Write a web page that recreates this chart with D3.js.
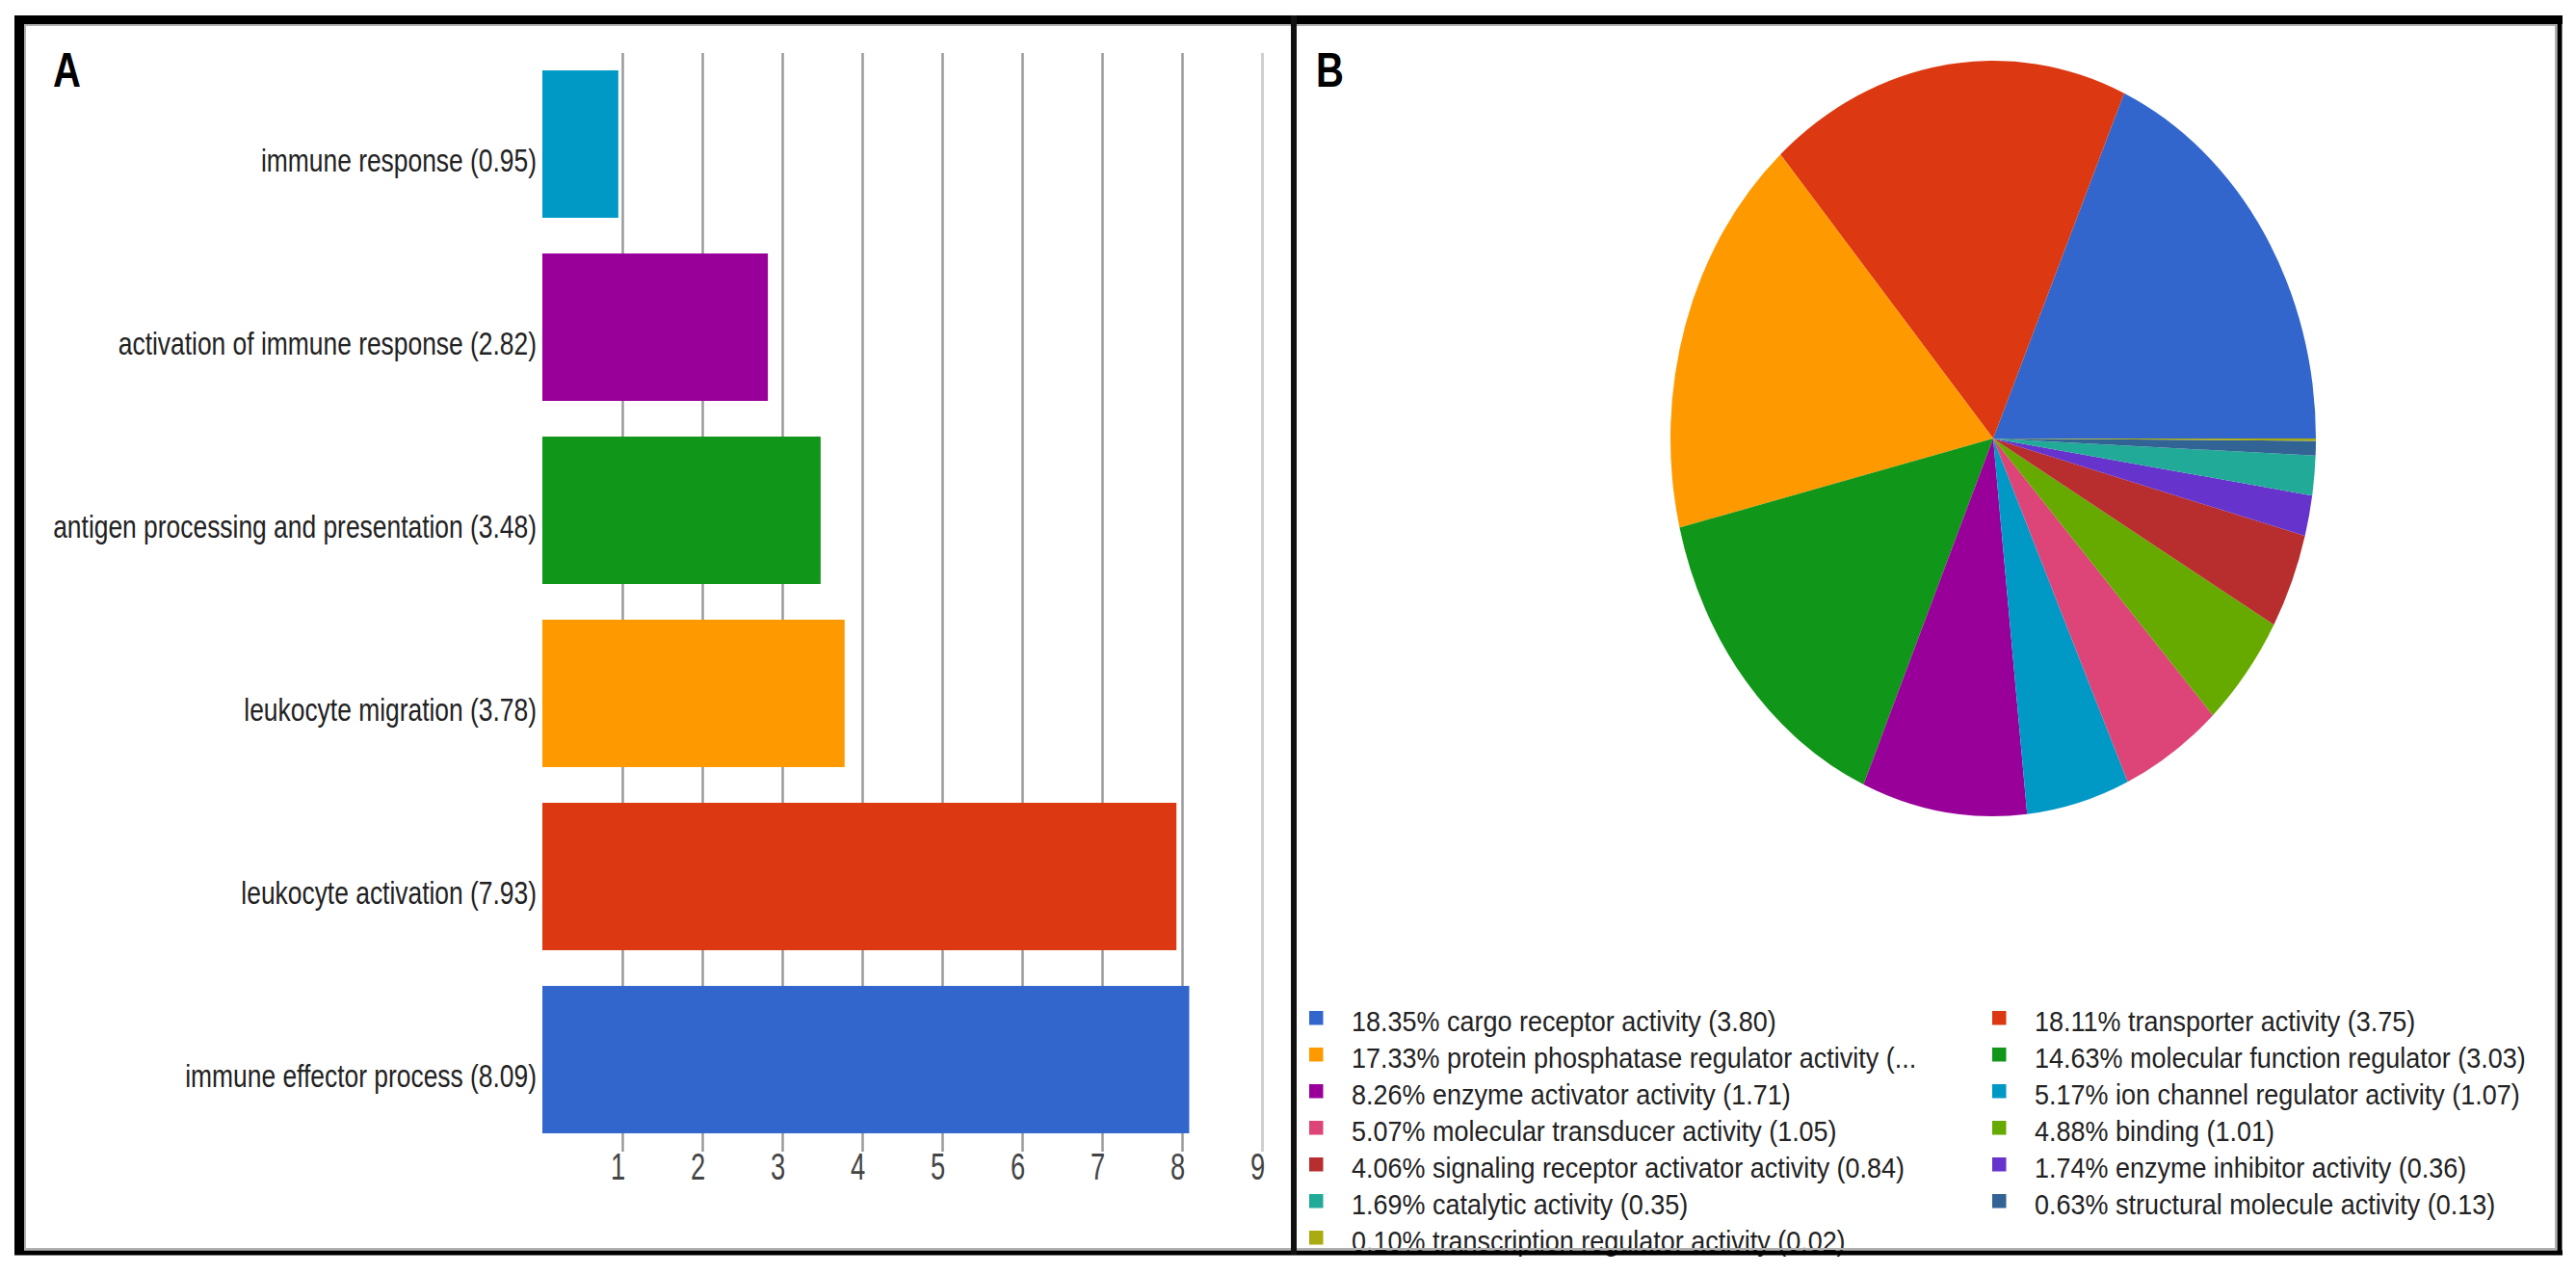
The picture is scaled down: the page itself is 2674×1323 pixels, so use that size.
<!DOCTYPE html>
<html>
<head>
<meta charset="utf-8">
<script src="https://cdnjs.cloudflare.com/ajax/libs/d3/7.8.5/d3.min.js"></script>
<style>
  html, body { margin: 0; padding: 0; background: #fff; }
  svg { display: block; font-family: "Liberation Sans", Arial, sans-serif; }
</style>
</head>
<body>
<svg id="chart" width="2674" height="1323"></svg>
<script>
// panel A: enriched biological processes
var processes = [
  'immune response',
  'activation of immune response',
  'antigen processing and presentation',
  'leukocyte migration',
  'leukocyte activation',
  'immune effector process'
];
var processValues = [0.95, 2.82, 3.48, 3.78, 7.93, 8.09];
var processColors = ['#0099c6', '#990099', '#109618', '#ff9900', '#dc3912', '#3366cc'];
var xTicks = [1, 2, 3, 4, 5, 6, 7, 8, 9];

// panel B: molecular functions
var functions = [
  'cargo receptor activity',
  'transporter activity',
  'protein phosphatase regulator activity',
  'molecular function regulator',
  'enzyme activator activity',
  'ion channel regulator activity',
  'molecular transducer activity',
  'binding',
  'signaling receptor activator activity',
  'enzyme inhibitor activity',
  'catalytic activity',
  'structural molecule activity',
  'transcription regulator activity'
];
var functionPercents = [18.35, 18.11, 17.33, 14.63, 8.26, 5.17, 5.07, 4.88, 4.06, 1.74, 1.69, 0.63, 0.10];
var functionValues = [3.80, 3.75, 3.59, 3.03, 1.71, 1.07, 1.05, 1.01, 0.84, 0.36, 0.35, 0.13, 0.02];
var functionColors = ['#3366cc', '#dc3912', '#ff9900', '#109618', '#990099', '#0099c6',
  '#dd4477', '#66aa00', '#b82e2e', '#6633cc', '#22aa99', '#316395', '#aaaa11'];

var svg = d3.select('#chart');

// ---- panel A ----
var x = d3.scaleLinear().domain([0, 9]).range([563, 1310]);
var y = d3.scaleBand().domain(processes).range([54.5, 1194.5])
  .paddingInner(0.195).paddingOuter(0.0975);

var axis = svg.append('g')
  .attr('class', 'x-axis')
  .attr('transform', 'translate(0,1195)')
  .call(d3.axisBottom(x).tickValues(xTicks).tickSize(-1140).tickPadding(2));

axis.select('.domain').remove();
axis.selectAll('.tick line')
  .attr('stroke', function(d) { return d === 9 ? '#d0d0d0' : '#9a9a9a'; })
  .attr('stroke-width', function(d) { return d === 9 ? 3 : 2.5; });
axis.selectAll('.tick text')
  .attr('font-size', 38)
  .attr('fill', '#444')
  .attr('font-family', '"Liberation Sans", Arial, sans-serif')
  .attr('transform', 'translate(-5,0) scale(0.72,1)');

svg.append('g').attr('class', 'bars')
  .selectAll('rect')
  .data(processes)
  .enter().append('rect')
  .attr('x', x(0))
  .attr('y', function(d) { return y(d); })
  .attr('height', y.bandwidth())
  .attr('width', function(d, i) { return x(processValues[i]) - x(0); })
  .attr('fill', function(d, i) { return processColors[i]; });

svg.append('g').attr('class', 'bar-labels')
  .selectAll('text')
  .data(processes)
  .enter().append('text')
  .attr('text-anchor', 'end')
  .attr('font-size', 33)
  .attr('fill', '#222')
  .attr('transform', function(d) {
    return 'translate(557,' + (y(d) + y.bandwidth() / 2 + 28) + ') scale(0.8,1)';
  })
  .text(function(d, i) { return d + ' (' + processValues[i].toFixed(2) + ')'; });

// ---- panel B ----
var ry = 392, rx = 335;
var pie = d3.pie().sort(null).value(function(d) { return d; })
  .startAngle(Math.PI / 2).endAngle(Math.PI / 2 - 2 * Math.PI);
var arc = d3.arc().innerRadius(0).outerRadius(ry);

svg.append('g').attr('class', 'pie')
  .attr('transform', 'translate(2069,455) scale(' + (rx / ry) + ',1)')
  .selectAll('path')
  .data(pie(functionValues))
  .enter().append('path')
  .attr('d', arc)
  .attr('fill', function(d, i) { return functionColors[i]; });

var legend = svg.append('g').attr('class', 'legend');
var legendCols = [1359, 2068], rowTop = 1049, rowStep = 38, maxLabel = 595;

var items = legend.selectAll('g')
  .data(functions)
  .enter().append('g')
  .attr('transform', function(d, i) {
    return 'translate(' + legendCols[i % 2] + ',' + (rowTop + Math.floor(i / 2) * rowStep) + ')';
  });

items.append('rect')
  .attr('width', 14.5).attr('height', 14.5)
  .attr('fill', function(d, i) { return functionColors[i]; });

items.append('text')
  .attr('font-size', 29)
  .attr('fill', '#222')
  .attr('transform', 'translate(44,21) scale(0.93,1)')
  .text(function(d, i) {
    return functionPercents[i].toFixed(2) + '% ' + d + ' (' + functionValues[i].toFixed(2) + ')';
  })
  .each(function() {
    var t = d3.select(this), full = t.text(), n = full.length;
    if (this.getComputedTextLength() * 0.93 <= maxLabel) return;
    while (n > 0) {
      n--;
      t.text(full.slice(0, n) + '...');
      if (this.getComputedTextLength() * 0.93 <= maxLabel) break;
    }
  });

// panel letters
svg.append('text').attr('font-size', 50).attr('font-weight', 'bold')
  .attr('transform', 'translate(55,90) scale(0.8,1)').text('A');
svg.append('text').attr('font-size', 50).attr('font-weight', 'bold')
  .attr('transform', 'translate(1366,90) scale(0.8,1)').text('B');

// frame
var frame = svg.append('g').attr('class', 'frame');
frame.append('rect').attr('x', 26).attr('y', 26).attr('width', 2627).attr('height', 1270)
  .attr('fill', 'none').attr('stroke', '#b0b0b0').attr('stroke-width', 2);
frame.append('line').attr('x1', 15).attr('x2', 2660).attr('y1', 20.5).attr('y2', 20.5)
  .attr('stroke', '#000').attr('stroke-width', 9);
frame.append('line').attr('x1', 20).attr('x2', 20).attr('y1', 16).attr('y2', 1302)
  .attr('stroke', '#000').attr('stroke-width', 10);
frame.append('line').attr('x1', 2657).attr('x2', 2657).attr('y1', 16).attr('y2', 1302)
  .attr('stroke', '#000').attr('stroke-width', 5);
frame.append('line').attr('x1', 15).attr('x2', 2660).attr('y1', 1300).attr('y2', 1300)
  .attr('stroke', '#000').attr('stroke-width', 5);
frame.append('line').attr('x1', 1343).attr('x2', 1343).attr('y1', 16).attr('y2', 1302)
  .attr('stroke', '#111').attr('stroke-width', 6);
</script>
</body>
</html>
